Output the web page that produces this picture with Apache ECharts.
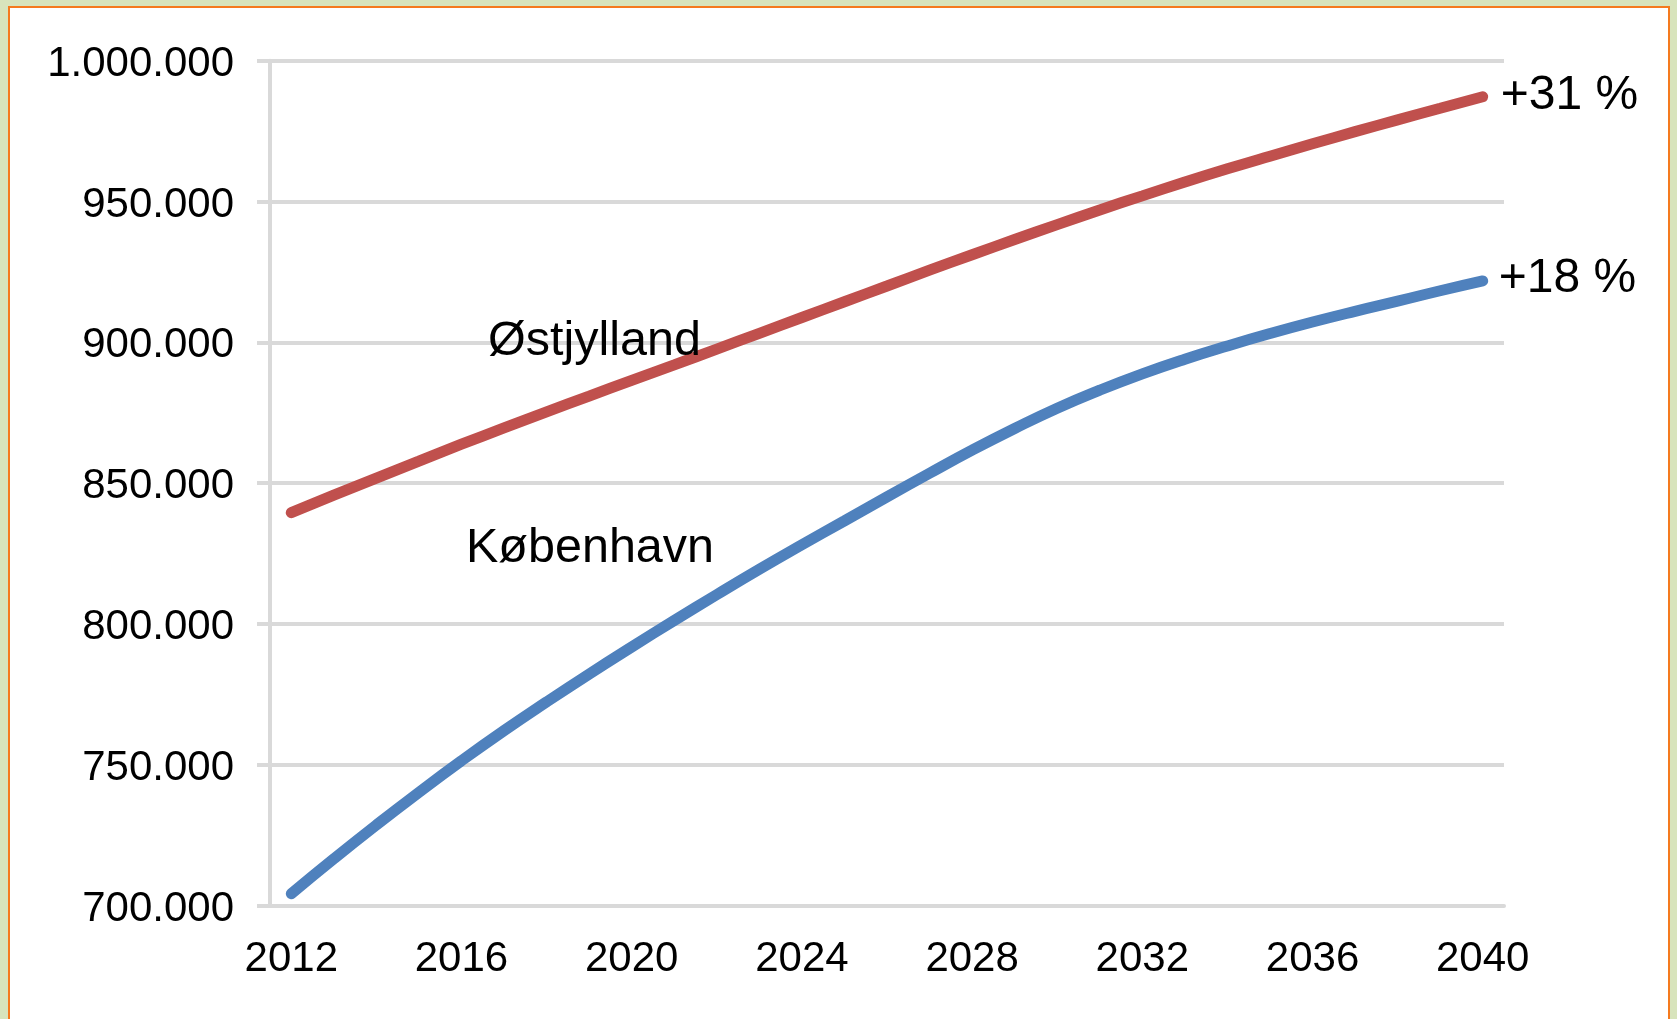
<!DOCTYPE html>
<html>
<head>
<meta charset="utf-8">
<script src="https://cdn.jsdelivr.net/npm/echarts@6/dist/echarts.min.js"></script>
<style>
  html, body { margin: 0; padding: 0; background: #d8e4bc; }
  #frame {
    position: absolute; left: 8px; top: 6px; width: 1662px; height: 1100px;
    background: #fff; border: 2px solid #f57a1e; box-sizing: border-box;
  }
  #chart { position: absolute; left: 0; top: 0; width: 1677px; height: 1019px; }
</style>
</head>
<body>
<div id="frame"></div>
<div id="chart"></div>
<script>
// years on the x axis
const years = [];
for (let y = 2012; y <= 2040; y++) years.push(String(y));

// Østjylland (red)
const ostjylland = [
  839500, 845700, 851800, 857800, 863800, 869600, 875300, 880900, 886500, 892000,
  897600, 903200, 908800, 914400, 920000, 925600, 931100, 936500, 941800, 947000,
  952000, 956900, 961600, 966100, 970500, 974800, 979000, 983100, 987200
];

// København (blue)
const kobenhavn = [
  704200, 716600, 728600, 740200, 751400, 762100, 772300, 782200, 791800, 801200,
  810400, 819400, 828100, 836600, 845100, 853500, 861700, 869400, 876600, 883000,
  888800, 894000, 898700, 903100, 907200, 911000, 914600, 918300, 921800
];

const seriesNames = ['Østjylland', 'København'];
const endLabels = ['+31 %', '+18 %'];

const gridColor = '#d9d9d9';
const font = 'Liberation Sans, Arial, sans-serif';

function fmt(v) {
  return String(v).replace(/\B(?=(\d{3})+(?!\d))/g, '.');
}

const chart = echarts.init(document.getElementById('chart'));
chart.setOption({
  backgroundColor: 'transparent',
  animation: false,
  grid: { left: 270, right: 173, top: 60.7, bottom: 113.5 },
  xAxis: {
    type: 'category',
    data: years,
    boundaryGap: true,
    axisLine: { lineStyle: { color: gridColor, width: 4 } },
    axisTick: { interval: 3, length: 13, lineStyle: { color: gridColor, width: 4 } },
    axisLabel: { interval: 3, fontSize: 42, fontFamily: font, color: '#000', margin: 33 },
    splitLine: { show: false }
  },
  yAxis: {
    type: 'value',
    min: 700000,
    max: 1000000,
    interval: 50000,
    axisLine: { show: true, lineStyle: { color: gridColor, width: 4 } },
    axisTick: { show: true, length: 13, lineStyle: { color: gridColor, width: 4 } },
    axisLabel: {
      fontSize: 42, fontFamily: font, color: '#000', margin: 36,
      verticalAlign: 'top', lineHeight: 7, formatter: fmt
    },
    splitLine: { lineStyle: { color: gridColor, width: 4 } }
  },
  series: [
    {
      name: seriesNames[0],
      type: 'line',
      data: ostjylland,
      smooth: true,
      symbol: 'none',
      lineStyle: { color: '#c0504d', width: 11, cap: 'round' },
      endLabel: {
        show: true, formatter: endLabels[0], fontSize: 48, fontFamily: font,
        color: '#000', distance: 18, offset: [0, -1]
      }
    },
    {
      name: seriesNames[1],
      type: 'line',
      data: kobenhavn,
      smooth: true,
      symbol: 'none',
      lineStyle: { color: '#4f81bd', width: 11, cap: 'round' },
      endLabel: {
        show: true, formatter: endLabels[1], fontSize: 48, fontFamily: font,
        color: '#000', distance: 16, offset: [0, -2]
      }
    }
  ],
  graphic: [
    {
      type: 'text', left: 488, top: 317, z: 100,
      style: { text: seriesNames[0], font: '48.5px ' + font, fill: '#000' }
    },
    {
      type: 'text', left: 466, top: 524, z: 100,
      style: { text: seriesNames[1], font: '48.5px ' + font, fill: '#000' }
    }
  ]
});
</script>
</body>
</html>
